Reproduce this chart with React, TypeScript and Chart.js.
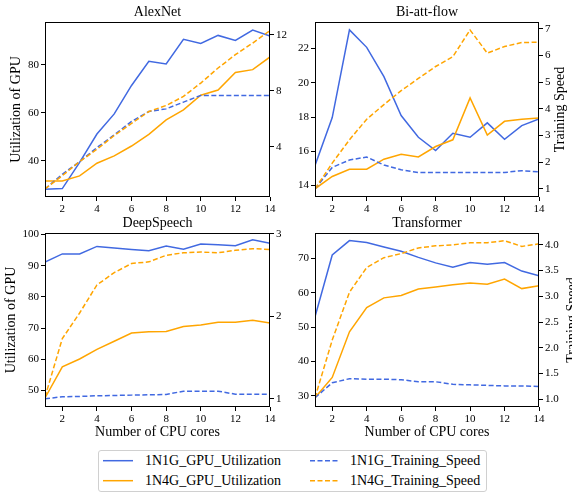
import React, { useEffect, useRef } from 'react';
import { Chart, registerables } from 'chart.js';

Chart.register(...registerables);

// ---------------- data ----------------
const cores = [1, 2, 3, 4, 5, 6, 7, 8, 9, 10, 11, 12, 13, 14];
const xTicks = [2, 4, 6, 8, 10, 12, 14];

const seriesNames = [
  '1N1G_GPU_Utilization',
  '1N4G_GPU_Utilization',
  '1N1G_Training_Speed',
  '1N4G_Training_Speed',
];

// AlexNet
const alexGpu1N1G = [28.0, 28.3, 39.3, 51.1, 59.5, 71.4, 81.5, 80.4, 90.7, 88.9, 92.3, 90.2, 94.5, 92.0];
const alexGpu1N4G = [31.5, 31.5, 33.6, 38.9, 42.0, 46.1, 51.0, 57.0, 61.2, 67.3, 69.5, 76.8, 78.0, 83.3];
const alexSpeed1N1G = [1.0, 2.05, 2.95, 3.95, 4.86, 5.81, 6.52, 6.71, 7.19, 7.67, 7.67, 7.67, 7.67, 7.67];
const alexSpeed1N4G = [1.0, 1.95, 2.95, 3.83, 4.81, 5.67, 6.52, 6.95, 7.6, 8.55, 9.62, 10.57, 11.4, 12.29];
const alexLeftTicks = [40, 60, 80];
const alexRightTicks = [4, 8, 12];

// Bi-att-flow
const biGpu1N1G = [15.17, 17.97, 23.09, 22.07, 20.36, 18.09, 16.82, 16.04, 17.05, 16.82, 17.66, 16.7, 17.5, 17.89];
const biGpu1N4G = [13.81, 14.53, 14.95, 14.95, 15.54, 15.83, 15.67, 16.28, 16.67, 19.12, 16.94, 17.75, 17.87, 17.95];
const biSpeed1N1G = [1.0, 1.8, 2.08, 2.19, 1.89, 1.71, 1.61, 1.61, 1.61, 1.61, 1.61, 1.61, 1.68, 1.63];
const biSpeed1N4G = [1.0, 1.96, 2.84, 3.61, 4.16, 4.68, 5.14, 5.59, 5.96, 6.96, 6.09, 6.34, 6.49, 6.5];
const biLeftTicks = [14, 16, 18, 20, 22];
const biRightTicks = [1, 2, 3, 4, 5, 6, 7];

// DeepSpeech
const dsGpu1N1G = [91.2, 93.8, 93.8, 96.2, 95.7, 95.2, 94.8, 96.3, 95.3, 97.0, 96.7, 96.4, 98.3, 97.2];
const dsGpu1N4G = [47.6, 57.6, 60.1, 63.2, 65.8, 68.4, 68.8, 68.9, 70.5, 71.0, 71.9, 71.9, 72.5, 71.6];
const dsSpeed1N1G = [1.0, 1.024, 1.028, 1.036, 1.04, 1.044, 1.048, 1.052, 1.092, 1.092, 1.092, 1.055, 1.055, 1.055];
const dsSpeed1N4G = [1.02, 1.73, 2.04, 2.38, 2.53, 2.64, 2.66, 2.74, 2.77, 2.78, 2.77, 2.8, 2.82, 2.81];
const dsLeftTicks = [50, 60, 70, 80, 90, 100];
const dsRightTicks = [1, 2, 3];

// Transformer
const trGpu1N1G = [53.0, 71.0, 75.2, 74.6, 73.3, 72.1, 70.3, 68.7, 67.4, 68.8, 68.3, 68.8, 66.3, 64.9];
const trGpu1N4G = [29.4, 35.3, 48.6, 55.7, 58.5, 59.2, 61.1, 61.7, 62.3, 62.8, 62.5, 64.0, 61.2, 62.0];
const trSpeed1N1G = [1.03, 1.32, 1.4, 1.39, 1.39, 1.38, 1.34, 1.34, 1.29, 1.28, 1.27, 1.26, 1.26, 1.25];
const trSpeed1N4G = [1.03, 2.15, 3.08, 3.56, 3.75, 3.83, 3.94, 3.98, 4.0, 4.04, 4.04, 4.08, 3.97, 4.02];
const trLeftTicks = [30, 40, 50, 60, 70];
const trRightTicks = [1.0, 1.5, 2.0, 2.5, 3.0, 3.5, 4.0];

// ---------------- styling ----------------
const BLUE = '#4169e1';
const ORANGE = '#ffa500';
const FONT = '"Liberation Serif", "Times New Roman", serif';
const DASH = [5, 2.5];

Chart.defaults.font.family = FONT;
Chart.defaults.color = '#000';

type Panel = {
  title: string;
  gpu1: number[];
  gpu4: number[];
  sp1: number[];
  sp4: number[];
  leftRange: [number, number];
  rightRange: [number, number];
  leftTicks: number[];
  rightTicks: number[];
  rightDecimals: number;
  box: { left: number; top: number; width: number; height: number };
  area: { left: number; right: number; top: number; bottom: number };
  leftTitlePad: number | null;
  rightTitleX: number | null;
  xTitle: boolean;
};

const panels: Panel[] = [
  {
    title: 'AlexNet',
    gpu1: alexGpu1N1G, gpu4: alexGpu1N4G, sp1: alexSpeed1N1G, sp4: alexSpeed1N4G,
    leftRange: [24.8, 97.9], rightRange: [0.43, 12.9],
    leftTicks: alexLeftTicks, rightTicks: alexRightTicks, rightDecimals: 0,
    box: { left: 0, top: 0, width: 290, height: 225 },
    area: { left: 45, right: 270, top: 22, bottom: 197 },
    leftTitlePad: 8.3, rightTitleX: null, xTitle: false,
  },
  {
    title: 'Bi-att-flow',
    gpu1: biGpu1N1G, gpu4: biGpu1N4G, sp1: biSpeed1N1G, sp4: biSpeed1N4G,
    leftRange: [13.33, 23.55], rightRange: [0.69, 7.26],
    leftTicks: biLeftTicks, rightTicks: biRightTicks, rightDecimals: 0,
    box: { left: 290, top: 0, width: 282, height: 225 },
    area: { left: 25, right: 249, top: 22, bottom: 197 },
    leftTitlePad: null, rightTitleX: 270.6, xTitle: false,
  },
  {
    title: 'DeepSpeech',
    gpu1: dsGpu1N1G, gpu4: dsGpu1N4G, sp1: dsSpeed1N1G, sp4: dsSpeed1N4G,
    leftRange: [44.7, 100.5], rightRange: [0.9, 3.01],
    leftTicks: dsLeftTicks, rightTicks: dsRightTicks, rightDecimals: 0,
    box: { left: 0, top: 208, width: 290, height: 240 },
    area: { left: 45, right: 270, top: 25, bottom: 199 },
    leftTitlePad: 2.8, rightTitleX: null, xTitle: true,
  },
  {
    title: 'Transformer',
    gpu1: trGpu1N1G, gpu4: trGpu1N4G, sp1: trSpeed1N1G, sp4: trSpeed1N4G,
    leftRange: [26.7, 77.4], rightRange: [0.85, 4.23],
    leftTicks: trLeftTicks, rightTicks: trRightTicks, rightDecimals: 1,
    box: { left: 290, top: 208, width: 282, height: 240 },
    area: { left: 25, right: 249, top: 25, bottom: 199 },
    leftTitlePad: null, rightTitleX: 281.9, xTitle: true,
  },
];

const framePlugin = {
  id: 'frame',
  afterDatasetsDraw(chart: any) {
    const { ctx, chartArea: a } = chart;
    ctx.save();
    ctx.strokeStyle = '#000';
    ctx.lineWidth = 1;
    const l = Math.round(a.left) + 0.5;
    const t = Math.round(a.top) + 0.5;
    const r = Math.round(a.right) - 0.5;
    const b = Math.round(a.bottom) - 0.5;
    ctx.strokeRect(l, t, r - l, b - t);
    ctx.restore();
  },
};

function rightTitlePlugin(text: string, x: number) {
  return {
    id: 'rightTitle',
    afterDraw(chart: any) {
      const { ctx, chartArea: a } = chart;
      ctx.save();
      ctx.translate(x, (a.top + a.bottom) / 2);
      ctx.rotate(-Math.PI / 2);
      ctx.font = `14px ${FONT}`;
      ctx.fillStyle = '#000';
      ctx.textAlign = 'center';
      ctx.textBaseline = 'middle';
      ctx.fillText(text, 0, 0);
      ctx.restore();
    },
  };
}

function makeConfig(p: Panel): any {
  const pts = (arr: number[]) => cores.map((c, i) => ({ x: c, y: arr[i] }));
  const ds = (label: string, arr: number[], color: string, dashed: boolean, axis: string) => ({
    label,
    data: pts(arr),
    borderColor: color,
    backgroundColor: color,
    borderWidth: 1.5,
    borderDash: dashed ? DASH : [],
    pointRadius: 0,
    pointHoverRadius: 0,
    tension: 0,
    fill: false,
    yAxisID: axis,
  });
  const tickFont = { family: FONT, size: 11, weight: 'normal' };
  const gridOpts = {
    display: true,
    drawOnChartArea: false,
    drawTicks: true,
    tickLength: 4,
    color: '#000',
    lineWidth: 1,
  };
  const plugins: any[] = [framePlugin];
  if (p.rightTitleX !== null) plugins.push(rightTitlePlugin('Training Speed', p.rightTitleX));
  return {
    type: 'line',
    data: {
      datasets: [
        ds(seriesNames[3], p.sp4, ORANGE, true, 'yR'),
        ds(seriesNames[2], p.sp1, BLUE, true, 'yR'),
        ds(seriesNames[1], p.gpu4, ORANGE, false, 'yL'),
        ds(seriesNames[0], p.gpu1, BLUE, false, 'yL'),
      ],
    },
    plugins,
    options: {
      animation: false,
      responsive: false,
      maintainAspectRatio: false,
      devicePixelRatio: 1,
      events: [],
      layout: { padding: 0 },
      plugins: {
        legend: { display: false },
        tooltip: { enabled: false },
        title: {
          display: true,
          text: p.title,
          fullSize: false,
          color: '#000',
          font: { family: FONT, size: 14, weight: 'normal', lineHeight: 1.2 },
          padding: { top: p.area.top - 17.8, bottom: 1 },
        },
      },
      scales: {
        x: {
          type: 'linear',
          min: 1,
          max: 14,
          bounds: 'data',
          grid: gridOpts,
          border: { display: false },
          afterBuildTicks: (s: any) => {
            s.ticks = xTicks.map((v) => ({ value: v }));
          },
          afterFit: (s: any) => {
            s.height = p.box.height - p.area.bottom;
          },
          ticks: {
            color: '#000',
            font: tickFont,
            padding: 2,
            maxRotation: 0,
            autoSkip: false,
            callback: (v: number) => String(v),
          },
          title: p.xTitle
            ? {
                display: true,
                text: 'Number of CPU cores',
                color: '#000',
                font: { family: FONT, size: 14, weight: 'normal', lineHeight: 1.2 },
                padding: { top: 0, bottom: 7.6 },
              }
            : { display: false },
        },
        yL: {
          type: 'linear',
          position: 'left',
          min: p.leftRange[0],
          max: p.leftRange[1],
          bounds: 'data',
          grid: gridOpts,
          border: { display: false },
          afterBuildTicks: (s: any) => {
            s.ticks = p.leftTicks.map((v) => ({ value: v }));
          },
          afterFit: (s: any) => {
            s.width = p.area.left;
          },
          ticks: {
            color: '#000',
            font: tickFont,
            padding: 2,
            autoSkip: false,
            callback: (v: number) => String(v),
          },
          title:
            p.leftTitlePad !== null
              ? {
                  display: true,
                  text: 'Utilization of GPU',
                  color: '#000',
                  font: { family: FONT, size: 14, weight: 'normal', lineHeight: 1.2 },
                  padding: { top: p.leftTitlePad, bottom: 0 },
                }
              : { display: false },
        },
        yR: {
          type: 'linear',
          position: 'right',
          min: p.rightRange[0],
          max: p.rightRange[1],
          bounds: 'data',
          grid: gridOpts,
          border: { display: false },
          afterBuildTicks: (s: any) => {
            s.ticks = p.rightTicks.map((v) => ({ value: v }));
          },
          afterFit: (s: any) => {
            s.width = p.box.width - p.area.right;
          },
          ticks: {
            color: '#000',
            font: tickFont,
            padding: 2,
            autoSkip: false,
            callback: (v: number) => v.toFixed(p.rightDecimals),
          },
        },
      },
    },
  };
}

function PanelChart({ p }: { p: Panel }) {
  const ref = useRef<HTMLCanvasElement>(null);
  useEffect(() => {
    const chart = new Chart(ref.current as HTMLCanvasElement, makeConfig(p));
    return () => chart.destroy();
  }, [p]);
  return (
    <canvas
      ref={ref}
      width={p.box.width}
      height={p.box.height}
      style={{
        position: 'absolute',
        left: p.box.left,
        top: p.box.top,
        width: p.box.width,
        height: p.box.height,
      }}
    />
  );
}

const legendEntries = [
  { name: seriesNames[0], color: BLUE, dashed: false, col: 0, row: 0 },
  { name: seriesNames[1], color: ORANGE, dashed: false, col: 0, row: 1 },
  { name: seriesNames[2], color: BLUE, dashed: true, col: 1, row: 0 },
  { name: seriesNames[3], color: ORANGE, dashed: true, col: 1, row: 1 },
];

function Legend() {
  const boxLeft = 98;
  const boxTop = 450;
  const colLine = [
    [103, 133],
    [310, 339],
  ];
  const colText = [145, 350];
  const rowY = [460.7, 480.7];
  return (
    <div
      style={{
        position: 'absolute',
        left: boxLeft,
        top: boxTop,
        width: 389,
        height: 42,
        boxSizing: 'border-box',
        border: '1px solid #d0d0d0',
        borderRadius: 3,
        background: '#fff',
        fontFamily: FONT,
        fontSize: 14,
        color: '#000',
      }}
    >
      <svg
        width={389}
        height={42}
        style={{ position: 'absolute', left: -1, top: -1, overflow: 'visible' }}
      >
        {legendEntries.map((e) => (
          <line
            key={e.name}
            x1={colLine[e.col][0] - boxLeft}
            x2={colLine[e.col][1] - boxLeft}
            y1={rowY[e.row] - boxTop}
            y2={rowY[e.row] - boxTop}
            stroke={e.color}
            strokeWidth={1.5}
            strokeDasharray={e.dashed ? DASH.join(',') : undefined}
          />
        ))}
      </svg>
      {legendEntries.map((e) => (
        <span
          key={e.name + '-t'}
          style={{
            position: 'absolute',
            left: colText[e.col] - boxLeft - 1,
            top: rowY[e.row] - boxTop - 8.1 - 1,
            lineHeight: '16px',
            whiteSpace: 'nowrap',
          }}
        >
          {e.name}
        </span>
      ))}
    </div>
  );
}

export default function App() {
  return (
    <div
      style={{
        position: 'absolute',
        left: 0,
        top: 0,
        width: 572,
        height: 493,
        background: '#fff',
        overflow: 'hidden',
      }}
    >
      {panels.map((p) => (
        <PanelChart key={p.title} p={p} />
      ))}
      <Legend />
    </div>
  );
}
